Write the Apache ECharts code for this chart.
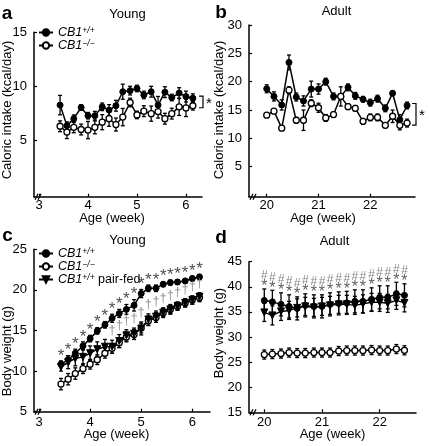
<!DOCTYPE html>
<html><head><meta charset="utf-8">
<script src="https://cdn.jsdelivr.net/npm/echarts@6/dist/echarts.min.js"></script>
<style>html,body{margin:0;padding:0;background:#fff}#c{width:429px;height:446px}</style>
</head><body><div id="c"></div>
<script>
// ---------- data ----------
const youngWeeks = [3.43,3.57,3.71,3.86,4.00,4.14,4.29,4.43,4.57,4.71,4.86,5.00,5.14,5.29,5.43,5.57,5.71,5.86,6.00,6.14];
const adultIntakeWeeks = [20.00,20.14,20.29,20.43,20.57,20.71,20.86,21.00,21.14,21.29,21.43,21.57,21.71,21.86,22.00,22.14,22.29,22.43,22.57,22.71];
const adultWeightWeeks = [20.00,20.14,20.29,20.43,20.57,20.71,20.86,21.00,21.14,21.29,21.43,21.57,21.71,21.86,22.00,22.14,22.29,22.43];

// a: caloric intake, young
const aWT    = [8.26,6.36,7.0,8.04,7.28,7.28,8.1,7.8,8.2,9.5,9.6,9.8,9.2,9.5,8.26,9.46,8.96,9.37,9.05,8.9];
const aWTerr = [0.9,0.35,0.35,0.25,0.3,0.4,0.35,0.5,0.5,0.7,0.4,0.3,0.35,0.5,0.8,0.5,0.3,0.5,0.5,0.4];
const aKO    = [6.3,5.76,6.2,6.0,5.95,6.2,6.68,7.0,6.46,7.15,8.5,7.35,7.7,7.47,7.66,7.0,7.47,8.1,8.0,8.2];
const aKOerr = [0.5,0.6,0.5,0.5,0.8,0.6,0.7,0.7,0.6,0.8,0.4,0.35,0.5,0.7,0.6,0.5,0.5,0.8,0.8,0.4];
// b: caloric intake, adult
const bWT    = [18.75,17.4,15.9,23.4,17.3,16.6,18.7,18.7,20.0,17.4,17.4,19.0,17.5,16.9,16.3,17.0,15.3,17.95,13.3,15.8];
const bWTerr = [0.7,0.8,0.9,1.3,0.7,0.9,1.4,0.9,0.6,0.6,1.7,0.6,0.6,0.5,0.6,0.6,0.6,0.4,0.9,0.6];
const bKO    = [14.1,14.8,11.8,18.5,13.2,13.2,16.2,15.4,13.6,14.2,17.4,15.6,15.3,13.0,13.7,13.7,12.3,13.9,12.3,12.7];
const bKOerr = [0.3,0.3,0.3,0.6,0.5,1.8,0.6,0.8,0.6,0.5,0.5,0.5,0.5,0.5,0.6,0.6,0.4,1.1,0.8,0.7];
// c: body weight, young
const cWT    = [10.86,11.4,12.2,13.1,14.0,14.95,15.7,16.5,17.1,17.6,18.1,19.55,20.2,20.2,20.7,20.9,20.97,21.1,21.4,21.6];
const cWTerr = [0.4,0.5,0.5,0.5,0.4,0.4,0.4,0.5,0.5,0.6,0.7,0.5,0.4,0.4,0.3,0.3,0.3,0.3,0.3,0.3];
const cKO    = [8.4,9.0,9.7,10.3,10.85,11.4,12.2,12.8,13.5,14.2,14.5,15.3,16.2,16.6,17.2,17.6,18.0,18.4,18.75,19.05];
const cKOerr = [0.7,0.7,0.7,0.6,0.6,0.6,0.6,0.6,0.6,0.6,0.6,0.6,0.6,0.6,0.5,0.5,0.5,0.5,0.5,0.5];
const cPF    = [10.5,11.1,11.55,11.75,12.2,12.7,13.0,13.0,13.7,14.4,14.6,15.25,16.35,16.7,17.2,17.6,18.0,18.4,18.75,19.15];
const cPFerr = [0.5,0.8,0.9,0.9,0.9,0.9,0.9,0.8,0.8,0.7,0.7,0.8,0.7,0.7,0.6,0.6,0.5,0.5,0.5,0.5];
const cStarFrom = 0, cDaggerFrom = 7;
// d: body weight, adult
const dWT    = [37.27,37.0,36.5,36.1,35.7,36.3,36.1,36.1,36.5,36.7,36.8,37.1,37.1,37.5,37.9,37.9,38.6,38.3];
const dWTerr = [2.3,2.3,2.3,2.3,2.3,2.3,2.3,2.3,2.3,2.3,2.3,2.3,2.3,2.3,2.3,2.3,2.3,2.3];
const dPF    = [34.9,34.3,35.1,35.3,35.8,36.1,35.9,36.1,36.3,36.5,36.5,36.3,36.6,36.9,36.9,36.7,37.3,36.8];
const dPFerr = [1.8,1.9,1.8,1.8,1.8,1.8,1.8,1.8,1.8,1.8,1.8,1.8,1.8,1.8,1.8,1.8,1.8,1.8];
const dKO    = [26.5,26.6,26.7,26.9,26.8,26.8,26.9,26.9,26.9,27.2,27.3,27.3,27.3,27.4,27.3,27.3,27.6,27.35];
const dKOerr = [0.9,0.9,0.9,0.9,0.9,0.9,0.9,0.9,0.9,0.9,0.9,0.9,0.9,0.9,0.9,0.9,0.9,0.9];

const youngTicks = [3,4,5,6];
const adultTicks = [20,21,22];
const aYTicks = [5,10,15];
const bYTicks = [5,10,15,20,25,30];
const cYTicks = [5,10,15,20,25];
const dYTicks = [15,20,25,30,35,40,45];

// ---------- chart ----------
const FONT = '"Liberation Sans", Arial, sans-serif';
const chart = echarts.init(document.getElementById('c'), null, {renderer:'canvas'});

const grids = [
  {left:34, top:32.3, width:168, height:164.4},
  {left:249, top:25, width:166, height:171.7},
  {left:34, top:249.3, width:176, height:162.4},
  {left:249, top:261.7, width:167, height:150.6}
];
const xr = [[2.898,6.327],[19.658,22.863],[2.902,6.346],[19.735,22.63]];
const yr = [[-0.22,15],[-0.29,30],[5,25],[15,45]];
const xt = [youngTicks, adultTicks, youngTicks, adultTicks];
const yt = [aYTicks, bYTicks, cYTicks, dYTicks];
const xMargin = [2, 2, 4, 4];

function xAx(i){
  return {type:'value', gridIndex:i, min:xr[i][0], max:xr[i][1],
    axisLine:{show:true, onZero:false, lineStyle:{color:'#000', width:1.5}},
    axisTick:{show:true, inside:true, length:3, customValues:xt[i], lineStyle:{color:'#000', width:1.2}},
    axisLabel:{customValues:xt[i], color:'#000', fontSize:13, fontFamily:FONT, margin:xMargin[i]},
    splitLine:{show:false}};
}
function yAx(i){
  return {type:'value', gridIndex:i, min:yr[i][0], max:yr[i][1],
    axisLine:{show:true, onZero:false, lineStyle:{color:'#000', width:1.5}},
    axisTick:{show:true, inside:true, length:3, customValues:yt[i], lineStyle:{color:'#000', width:1.2}},
    axisLabel:{customValues:yt[i], color:'#000', fontSize:13, fontFamily:FONT, margin:7},
    splitLine:{show:false}};
}

const styles = {
  wt:{symbol:'circle', symbolSize:6, symbolRotate:0, itemStyle:{color:'#000', borderColor:'#000', borderWidth:1}},
  ko:{symbol:'circle', symbolSize:6, symbolRotate:0, itemStyle:{color:'#fff', borderColor:'#000', borderWidth:1.3}},
  pf:{symbol:'triangle', symbolSize:7, symbolRotate:180, itemStyle:{color:'#000', borderColor:'#000', borderWidth:1}}
};
function line(name, gi, xs, ys, kind){
  const s = styles[kind];
  return {type:'line', name, xAxisIndex:gi, yAxisIndex:gi,
    data: xs.map((x,k)=>[x, ys[k]]),
    symbol:s.symbol, symbolSize:s.symbolSize, symbolRotate:s.symbolRotate, showSymbol:true,
    itemStyle:s.itemStyle, lineStyle:{color:'#000', width:1.5}, z:4, animation:false,
    emphasis:{disabled:true}};
}
function errRender(params, api){
  const x = api.value(0);
  const lo = api.coord([x, api.value(1)]);
  const hi = api.coord([x, api.value(2)]);
  const w = 2;
  const st = {stroke:'#000', lineWidth:1.3};
  return {type:'group', children:[
    {type:'line', shape:{x1:lo[0], y1:lo[1], x2:hi[0], y2:hi[1]}, style:st},
    {type:'line', shape:{x1:hi[0]-w, y1:hi[1], x2:hi[0]+w, y2:hi[1]}, style:st},
    {type:'line', shape:{x1:lo[0]-w, y1:lo[1], x2:lo[0]+w, y2:lo[1]}, style:st}
  ]};
}
function err(gi, xs, ys, es){
  return {type:'custom', name:'err', xAxisIndex:gi, yAxisIndex:gi, renderItem:errRender,
    data: xs.map((x,k)=>[x, ys[k]-es[k], ys[k]+es[k]]), encode:{x:0, y:[1,2]}, z:3, silent:true, animation:false};
}
function notes(gi, xs, ys, from, text, lab){
  const data = [];
  for (let k=from;k<xs.length;k++) data.push([xs[k], ys[k]]);
  return {type:'scatter', name:'note', xAxisIndex:gi, yAxisIndex:gi, data, symbol:'circle', symbolSize:1,
    itemStyle:{color:'rgba(0,0,0,0)'}, silent:true, animation:false, z:5,
    label:Object.assign({show:true, position:'top', formatter:text, fontFamily:FONT}, lab)};
}

const cWTtop = cWT.map((v,k)=>v+cWTerr[k]);
const cLowTop = cPF.map((v,k)=>Math.max(v+cPFerr[k], cKO[k]+cKOerr[k]));
const dTop = dWT.map((v,k)=>Math.max(v+dWTerr[k], dPF[k]+dPFerr[k]));

const N1='CB1+/+', N2='CB1-/-', N3='CB1+/+ pair-fed';
const series = [
  err(0, youngWeeks, aWT, aWTerr), err(0, youngWeeks, aKO, aKOerr),
  line(N1, 0, youngWeeks, aWT, 'wt'), line(N2, 0, youngWeeks, aKO, 'ko'),
  err(1, adultIntakeWeeks, bWT, bWTerr), err(1, adultIntakeWeeks, bKO, bKOerr),
  line(N1, 1, adultIntakeWeeks, bWT, 'wt'), line(N2, 1, adultIntakeWeeks, bKO, 'ko'),
  err(2, youngWeeks, cWT, cWTerr), err(2, youngWeeks, cKO, cKOerr), err(2, youngWeeks, cPF, cPFerr),
  line(N1, 2, youngWeeks, cWT, 'wt'), line(N2, 2, youngWeeks, cKO, 'ko'), line(N3, 2, youngWeeks, cPF, 'pf'),
  notes(2, youngWeeks, cWTtop, cStarFrom, '*', {fontSize:17, lineHeight:17, color:'#222', distance:-4}),
  notes(2, youngWeeks, cLowTop, cDaggerFrom, '†', {fontSize:13, lineHeight:13, color:'#777', distance:2.5}),
  err(3, adultWeightWeeks, dWT, dWTerr), err(3, adultWeightWeeks, dPF, dPFerr), err(3, adultWeightWeeks, dKO, dKOerr),
  line(N1, 3, adultWeightWeeks, dWT, 'wt'), line(N3, 3, adultWeightWeeks, dPF, 'pf'), line(N2, 3, adultWeightWeeks, dKO, 'ko'),
  notes(3, adultWeightWeeks, dTop, 0, '{h|#}\n{s|*}', {distance:-3.5, rich:{
    h:{fontSize:12, lineHeight:12, color:'#666', fontFamily:FONT},
    s:{fontSize:16, lineHeight:10, color:'#333', fontFamily:FONT}}})
];

const legendText = {
  fontFamily:FONT, fontSize:12.5, color:'#000',
  rich:{
    i:{fontStyle:'italic', fontSize:12.5, fontFamily:FONT, color:'#000', lineHeight:12},
    s:{fontStyle:'italic', fontSize:8.5, fontFamily:FONT, color:'#000', verticalAlign:'top', lineHeight:12},
    n:{fontSize:12.5, fontFamily:FONT, color:'#000', lineHeight:12}
  }
};
function legendFmt(name){
  if (name===N1) return '{i|CB1}{s|+/+}';
  if (name===N2) return '{i|CB1}{s|−/−}';
  return '{i|CB1}{s|+/+}{n| pair-fed}';
}
const legends = [
  {data:[N1,N2], left:38, top:26, orient:'vertical', itemGap:0, itemWidth:14, itemHeight:8,
   formatter:legendFmt, textStyle:legendText, selectedMode:false, padding:0},
  {data:[N1,N2,N3], left:38, top:247, orient:'vertical', itemGap:0, itemWidth:14, itemHeight:8,
   formatter:legendFmt, textStyle:legendText, selectedMode:false, padding:0}
];

function txt(text, x, y, font, rot){
  return {type:'text', x, y, rotation:rot||0, silent:true,
    style:{text, font, fill:'#000', textAlign:'center', textVerticalAlign:'middle', align:'center', verticalAlign:'middle'}};
}
const F13 = '13px ' + FONT;
const FB = 'bold 19px ' + FONT;
const staticGraphics = [
  txt('a', 7, 13.5, FB), txt('b', 221, 13, FB), txt('c', 7.5, 236, FB), txt('d', 221, 238, FB),
  txt('Young', 127.5, 14.5, F13), txt('Adult', 336.5, 11.5, F13),
  txt('Young', 127.5, 240, F13), txt('Adult', 334.5, 241, F13),
  txt('Caloric intake (kcal/day)', 7.5, 110, F13, Math.PI/2),
  txt('Caloric intake (kcal/day)', 219, 110, F13, Math.PI/2),
  txt('Body weight (g)', 7.5, 351, F13, Math.PI/2),
  txt('Body weight (g)', 219, 333, F13, Math.PI/2),
  txt('Age (week)', 112, 218.5, F13), txt('Age (week)', 323, 218.5, F13),
  txt('Age (week)', 116.5, 434, F13), txt('Age (week)', 332.5, 434, F13)
];

chart.setOption({
  animation:false,
  grid:grids,
  xAxis:[0,1,2,3].map(xAx),
  yAxis:[0,1,2,3].map(yAx),
  legend:legends,
  series,
  graphic:staticGraphics
});

// decorations computed through the chart's own scales
const extra = [];
for (let i=0;i<4;i++){
  const p = chart.convertToPixel({gridIndex:i}, [xr[i][0], yr[i][0]]);
  const st = {stroke:'#000', lineWidth:1.2};
  extra.push({type:'line', silent:true, shape:{x1:p[0]+1, y1:p[1]+3, x2:p[0]+4, y2:p[1]-3}, style:st});
  extra.push({type:'line', silent:true, shape:{x1:p[0]+4, y1:p[1]+3, x2:p[0]+7, y2:p[1]-3}, style:st});
}
function bracket(gi, xs, top, bot){
  const n = xs.length-1;
  const xR = chart.convertToPixel({gridIndex:gi}, [xr[gi][1], 0])[0] + 1;
  const yT = chart.convertToPixel({gridIndex:gi}, [xs[n], top])[1] - 2;
  const yB = chart.convertToPixel({gridIndex:gi}, [xs[n], bot])[1] + 2;
  extra.push({type:'polyline', silent:true, shape:{points:[[xR-4,yT],[xR,yT],[xR,yB],[xR-4,yB]]}, style:{stroke:'#000', lineWidth:1.2, fill:null}});
  extra.push(txt('*', xR+6, (yT+yB)/2+2, '15px '+FONT));
}
bracket(0, youngWeeks, aWT[aWT.length-1], aKO[aKO.length-1]);
bracket(1, adultIntakeWeeks, bWT[bWT.length-1], bKO[bKO.length-1]);
chart.setOption({graphic: staticGraphics.concat(extra)});
</script>
</body></html>
